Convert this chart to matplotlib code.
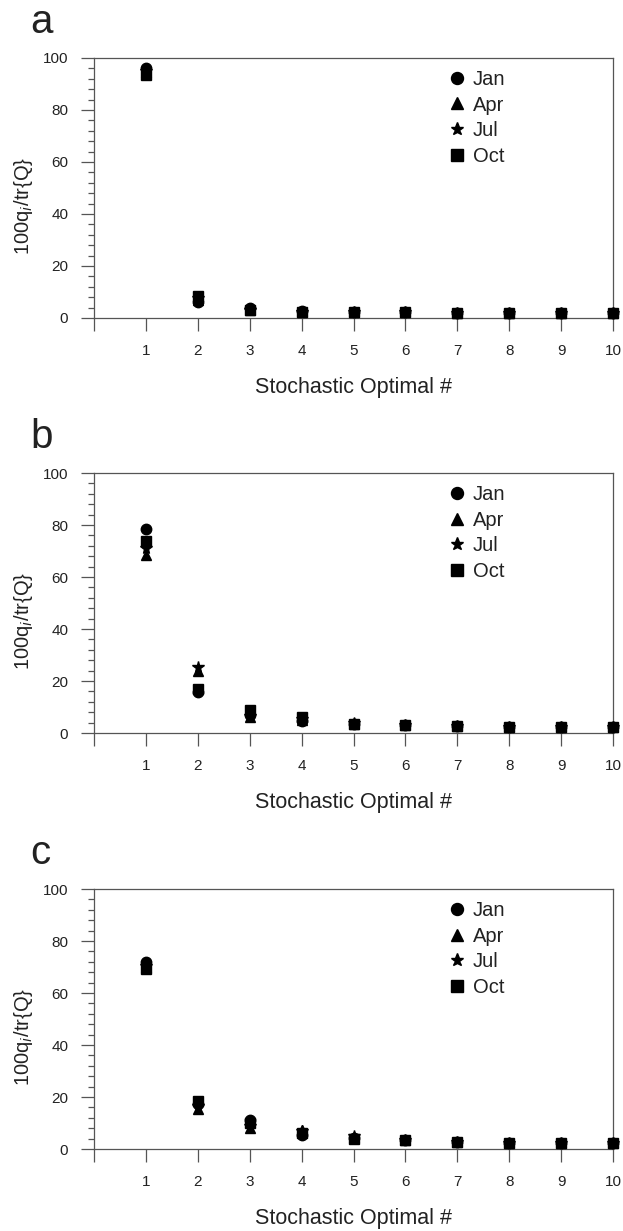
# -*- coding: utf-8 -*-
import numpy as np
import matplotlib
matplotlib.use('Agg')
from matplotlib import pyplot as plt
from matplotlib.ticker import MultipleLocator, FixedLocator

plt.rcParams['font.family'] = ['Liberation Sans', 'DejaVu Sans']

# номера стохастических оптимумов
modes = np.arange(1, 11)
months = ['Jan', 'Apr', 'Jul', 'Oct']
markers = ['o', '^', '*', 's']
panels = ['a', 'b', 'c']

# панель a
a_jan = [96.0, 6.0, 4.0, 2.5, 2.4, 2.2, 2.1, 2.1, 2.0, 2.0]
a_apr = [94.5, 7.0, 3.0, 2.4, 2.3, 2.2, 2.1, 2.0, 2.0, 2.0]
a_jul = [95.0, 7.5, 3.0, 2.4, 2.3, 2.2, 2.1, 2.0, 2.0, 2.0]
a_oct = [93.5, 8.5, 3.0, 2.4, 2.3, 2.2, 2.1, 2.0, 2.0, 2.0]

# панель b
b_jan = [78.5, 15.8, 7.0, 4.5, 3.3, 3.0, 2.8, 2.5, 2.3, 2.2]
b_apr = [68.5, 24.0, 6.0, 5.0, 3.5, 3.0, 2.7, 2.5, 2.3, 2.2]
b_jul = [71.0, 25.5, 6.5, 5.5, 3.8, 3.1, 2.8, 2.5, 2.3, 2.2]
b_oct = [74.0, 16.8, 9.0, 6.0, 3.4, 3.0, 2.7, 2.4, 2.3, 2.2]

# панель c
c_jan = [72.0, 17.5, 11.0, 5.5, 4.2, 3.3, 2.7, 2.4, 2.3, 2.2]
c_apr = [70.0, 15.5, 8.0, 7.5, 4.5, 3.3, 2.6, 2.4, 2.3, 2.2]
c_jul = [70.5, 16.5, 9.0, 7.0, 5.0, 3.4, 2.6, 2.4, 2.3, 2.2]
c_oct = [69.2, 18.5, 10.0, 6.0, 4.0, 3.3, 2.6, 2.4, 2.3, 2.2]

data = [
    [a_jan, a_apr, a_jul, a_oct],
    [b_jan, b_apr, b_jul, b_oct],
    [c_jan, c_apr, c_jul, c_oct],
]

x_ticks = list(range(0, 11))
x_ticklabels = [''] + [str(i) for i in range(1, 11)]

spine_color = '#555555'
text_color = '#222222'


def main():
    fig = plt.figure(figsize=(6.23, 12.31), dpi=100)
    bottoms = [0.7417, 0.4045, 0.0666]

    for letter, series, bottom in zip(panels, data, bottoms):
        ax = fig.add_axes([0.1509, bottom, 0.8331, 0.2112])

        for vals, mk, name in zip(series, markers, months):
            ms = 8.5 if mk == '*' else 7.5
            ax.plot(modes, vals, linestyle='none', marker=mk, ms=ms,
                    color='black', label=name, clip_on=False, zorder=3)

        ax.set_xlim(0, 10)
        ax.set_ylim(0, 100)

        ax.xaxis.set_major_locator(FixedLocator(x_ticks))
        ax.set_xticklabels(x_ticklabels)
        ax.yaxis.set_major_locator(MultipleLocator(20))
        ax.yaxis.set_minor_locator(MultipleLocator(4))

        ax.tick_params(axis='both', which='major', direction='out',
                       length=9.5, width=0.9, color=spine_color,
                       labelsize=11, labelcolor=text_color, pad=9)
        ax.tick_params(axis='y', which='minor', direction='out',
                       length=4.5, width=0.9, color=spine_color)
        ax.tick_params(top=False, right=False)

        for sp in ax.spines.values():
            sp.set_color(spine_color)
            sp.set_linewidth(0.9)

        ax.set_xlabel('Stochastic Optimal #', fontsize=15.5,
                      color=text_color, labelpad=14)
        ax.set_ylabel('100q$_i$/tr{Q}', fontsize=14.5, color=text_color)
        ax.yaxis.set_label_coords(-0.113, 0.43)

        ax.text(-0.123, 1.095, letter, transform=ax.transAxes,
                fontsize=29, color=text_color, va='baseline', ha='left')

        leg = ax.legend(loc='upper left', bbox_to_anchor=(0.68, 0.955),
                        frameon=False, fontsize=14.5, handlelength=1.0,
                        handletextpad=0.3, borderpad=0, borderaxespad=0,
                        labelspacing=0.34, markerscale=1.15)
        for t in leg.get_texts():
            t.set_color(text_color)

    fig.savefig('out.png', dpi=100)


if __name__ == '__main__':
    main()
